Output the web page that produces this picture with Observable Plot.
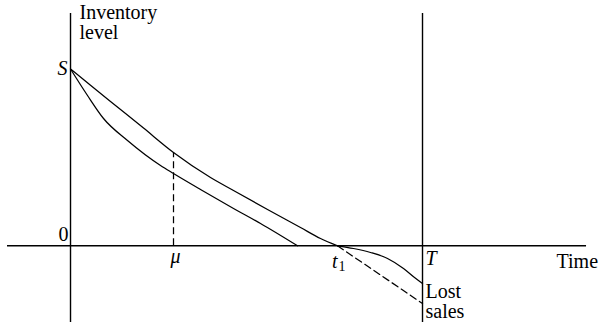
<!DOCTYPE html>
<html>
<head>
<meta charset="utf-8">
<script src="https://cdn.jsdelivr.net/npm/d3@7"></script>
<script src="https://cdn.jsdelivr.net/npm/@observablehq/plot@0.6"></script>
<style>
  html, body { margin: 0; padding: 0; background: #fff; }
</style>
</head>
<body>
<div id="chart"></div>
<script>
// ---- Data (time units: T = 10, inventory units: S = 10) ----
const S = 10;
const mu = 2.926;
const t1 = 7.585;
const T = 10;

// Upper inventory curve (from S down to zero at t1)
const upperTime  = [0, 0.568, 1.136, 2.074, 2.926, 3.977, 4.631, 5.597, 6.534, 7.102, 7.585];
const upperLevel = [10, 9.084, 8.167, 6.657, 5.277, 3.863, 3.128, 2.053, 1.035, 0.413, 0];

// Lower inventory curve (from S down to zero before t1)
const lowerTime  = [0, 0.483, 0.938, 1.619, 2.557, 2.926, 3.693, 4.631, 5.398, 6.449];
const lowerLevel = [10, 8.501, 7.200, 5.956, 4.542, 4.089, 3.185, 2.110, 1.261, 0];

// Inventory path after t1 (solid)
const lostTime  = [7.585, 8.040, 8.523, 9.006, 9.460, 9.773, 10];
const lostLevel = [0, -0.153, -0.379, -0.718, -1.284, -1.793, -2.132];

// Straight dashed continuation after t1
const dashTime  = [7.585, 10];
const dashLevel = [0, -3.264];

// Axis extents
const axisTime  = [-1.79, 14.66];
const axisLevel = [-4.34, 13.14];

// Labels
const tickLabels = { S: "S", zero: "0", mu: "μ", t: "t", sub: "1", T: "T" };
const axisTitles = { y: "Inventory\nlevel", x: "Time", lost: "Lost\nsales" };
const timeTitleAt = 13.807;

// ---- Build tables ----
const zip = (xs, ys) => xs.map((x, i) => ({x, y: ys[i]}));
const upper = zip(upperTime, upperLevel);
const lower = zip(lowerTime, lowerLevel);
const lost = zip(lostTime, lostLevel);
const dash = zip(dashTime, dashLevel);
const muTop = upperLevel[upperTime.indexOf(mu)];

const font = "'Liberation Serif', 'Times New Roman', serif";
const lw = 1.25;
const dashes = "7,4";

const chart = Plot.plot({
  width: 601,
  height: 328,
  marginTop: 0, marginRight: 0, marginBottom: 0, marginLeft: 0,
  x: { domain: [-1.989, 15.085], axis: null },
  y: { domain: [-4.678, 13.874], axis: null },
  style: { fontFamily: font, fontSize: "20px", background: "#fff", color: "#000" },
  marks: [
    // axes
    Plot.ruleY([0], { x1: axisTime[0], x2: axisTime[1], stroke: "#000", strokeWidth: 1.4 }),
    Plot.ruleX([0], { y1: axisLevel[0], y2: axisLevel[1], stroke: "#000", strokeWidth: 1.4 }),
    Plot.ruleX([T], { y1: axisLevel[0], y2: axisLevel[1], stroke: "#000", strokeWidth: 1.4 }),
    // mu dashed vertical
    Plot.ruleX([mu], { y1: 0, y2: muTop, stroke: "#000", strokeWidth: lw, strokeDasharray: dashes }),
    // curves
    Plot.line(upper, { x: "x", y: "y", curve: "monotone-x", stroke: "#000", strokeWidth: lw }),
    Plot.line(lower, { x: "x", y: "y", curve: "monotone-x", stroke: "#000", strokeWidth: lw }),
    Plot.line(lost, { x: "x", y: "y", curve: "monotone-x", stroke: "#000", strokeWidth: lw }),
    Plot.line(dash, { x: "x", y: "y", stroke: "#000", strokeWidth: lw, strokeDasharray: dashes }),
    // tick labels
    Plot.text([tickLabels.S], { x: 0, y: S, text: d => d, textAnchor: "end", dx: -3, fontStyle: "italic", fontSize: 20 }),
    Plot.text([tickLabels.zero], { x: 0, y: 0, text: d => d, textAnchor: "end", dx: -2, dy: -11, fontSize: 20 }),
    Plot.text([tickLabels.mu], { x: mu, y: 0, text: d => d, dx: 2, dy: 11, fontStyle: "italic", fontSize: 20 }),
    Plot.text([tickLabels.t], { x: t1, y: 0, text: d => d, textAnchor: "end", dx: 0, dy: 16, fontStyle: "italic", fontSize: 20 }),
    Plot.text([tickLabels.sub], { x: t1, y: 0, text: d => d, textAnchor: "start", dx: 1, dy: 21, fontSize: 14 }),
    Plot.text([tickLabels.T], { x: T, y: 0, text: d => d, textAnchor: "start", dx: 3, dy: 13, fontStyle: "italic", fontSize: 20 }),
    // axis titles
    Plot.text([axisTitles.y], { x: 0, y: axisLevel[1], text: d => d, textAnchor: "start", lineAnchor: "top", lineHeight: 1, dx: 9, dy: -8.7, fontSize: 20 }),
    Plot.text([axisTitles.x], { x: timeTitleAt, y: 0, text: d => d, textAnchor: "start", dy: 16, fontSize: 20 }),
    Plot.text([axisTitles.lost], { x: T, y: lostLevel[lostLevel.length - 1], text: d => d, textAnchor: "start", lineAnchor: "top", lineHeight: 1, dx: 3, dy: 0.8, fontSize: 20 })
  ]
});
document.getElementById("chart").appendChild(chart);
</script>
</body>
</html>
